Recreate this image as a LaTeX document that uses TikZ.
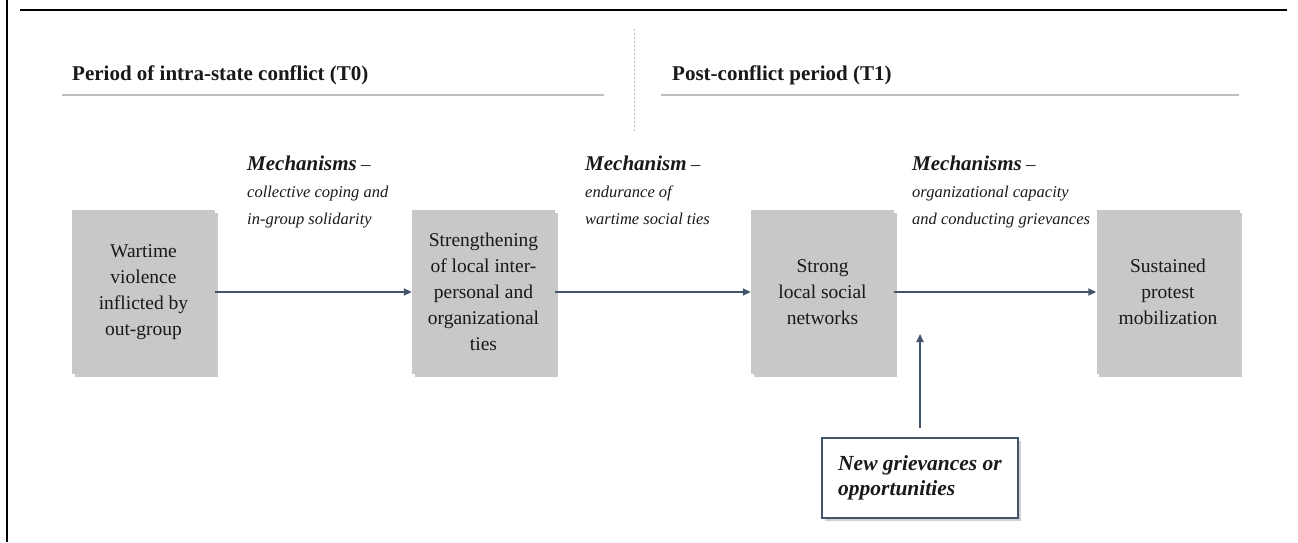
\documentclass[tikz,border=0pt]{standalone}
\usepackage{fontspec}
\setmainfont{Liberation Serif}
\usetikzlibrary{arrows.meta,shadows}
\definecolor{arrowcol}{RGB}{68,84,106}
\definecolor{boxfill}{RGB}{200,200,200}
\definecolor{rulegray}{RGB}{191,191,191}
\definecolor{txt}{RGB}{25,25,25}
\begin{document}
\begin{tikzpicture}[x=1pt,y=-1pt,
  stagebox/.style={fill=boxfill, minimum width=143pt, minimum height=164pt,
    inner sep=0pt, align=center, text=txt, font=\fontsize{19.5}{26}\selectfont,
    drop shadow={shadow xshift=2.5pt, shadow yshift=-2.5pt, opacity=0.35, fill=black!60}},
  newbox/.style={draw=arrowcol, line width=1.5pt, fill=white, minimum width=196pt,
    minimum height=80pt, align=left, inner sep=0pt, text=txt,
    font=\fontsize{21.5}{25}\selectfont\bfseries\itshape,
    drop shadow={shadow xshift=2.5pt, shadow yshift=-2.5pt, opacity=0.3, fill=black!60}},
  conn/.style={draw=arrowcol, line width=1.8pt, -{Triangle[length=8pt,width=7pt]}},
  hdr/.style={font=\fontsize{21}{24}\selectfont\bfseries, text=txt, inner sep=0pt, anchor=base west},
  hdrrule/.style={draw=rulegray, line width=2pt},
  divider/.style={draw=rulegray, line width=0.8pt, dash pattern=on 2pt off 2pt},
  mech/.style={font=\fontsize{16.5}{27}\selectfont\itshape, text=txt, align=left, inner sep=0pt, anchor=north west}
]
\useasboundingbox (0,0) rectangle (1298,542);

% frame
\draw[line width=2.5pt] (20,10) -- (1287,10);
\draw[line width=2.5pt] (7,0) -- (7,542);

% period headers
\node[hdr] (h0) at (72,80) {Period of intra-state conflict (T0)};
\node[hdr] (h1) at (672,80) {Post-conflict period (T1)};
\draw[hdrrule] (62,95) -- (604,95);
\draw[hdrrule] (661,95) -- (1239,95);
\draw[divider] (634,29) -- (634,133);

% stage boxes
\node[stagebox] (b1) at (143.5,292) {Wartime\\violence\\inflicted by\\out-group};
\node[stagebox] (b2) at (483.5,292) {Strengthening\\of local inter-\\personal and\\organizational\\ties};
\node[stagebox] (b3) at (822.5,292) {Strong\\local social\\networks};
\node[stagebox] (b4) at (1168,292) {Sustained\\protest\\mobilization};

% new grievances box
\node[newbox] (b5) at (920,478) {New grievances or\\opportunities};
\coordinate (vt) at (920,334);

% connectors
\draw[conn] (b1.east) -- (b2.west);
\draw[conn] (b2.east) -- (b3.west);
\draw[conn] (b3.east) -- (b4.west);
\draw[conn, shorten <=9pt] (b5.north) -- (vt);

% mechanism labels
\node[mech] (m1) at (247,156) {{\fontsize{21}{27}\selectfont\bfseries Mechanisms} {\fontsize{19}{27}\selectfont –}\\collective coping and\\in-group solidarity};
\node[mech] (m2) at (585,156) {{\fontsize{21}{27}\selectfont\bfseries Mechanism} {\fontsize{19}{27}\selectfont –}\\endurance of\\wartime social ties};
\node[mech] (m3) at (912,156) {{\fontsize{21}{27}\selectfont\bfseries Mechanisms} {\fontsize{19}{27}\selectfont –}\\organizational capacity\\and conducting grievances};
\end{tikzpicture}
\end{document}
